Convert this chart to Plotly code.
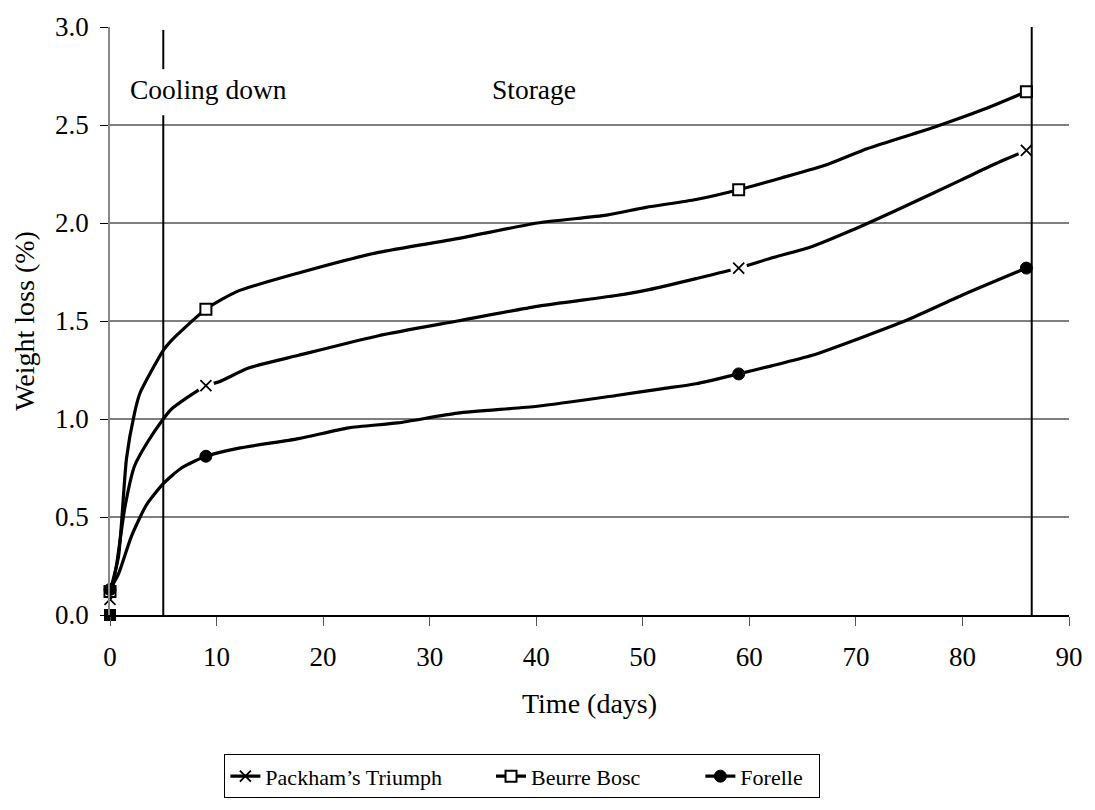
import plotly.graph_objects as go

# ---- data ----
pack_days = [0, 0.6, 1.4, 2.3, 3.5, 5, 5.75, 9, 10.25, 13, 17.7, 25.2, 32.6, 40.1, 47.5, 50.6, 55, 59, 62, 65.9, 69.5, 73.6, 79.9, 83, 86]
pack_vals = [0.08, 0.25, 0.55, 0.76, 0.88, 1.0, 1.05, 1.17, 1.19, 1.26, 1.325, 1.425, 1.50, 1.575, 1.63, 1.66, 1.716, 1.77, 1.82, 1.88, 1.96, 2.06, 2.22, 2.30, 2.37]

bosc_days = [0, 0.8, 1.55, 2.3, 2.8, 5, 5.75, 9, 11.9, 17.7, 25.2, 32.6, 40.1, 46.6, 50.3, 55, 59, 63, 67.4, 71.1, 77.4, 82, 86]
bosc_vals = [0.12, 0.30, 0.80, 1.03, 1.13, 1.35, 1.40, 1.56, 1.65, 1.745, 1.85, 1.92, 2.0, 2.04, 2.08, 2.12, 2.17, 2.23, 2.30, 2.38, 2.49, 2.58, 2.67]

forelle_days = [0, 0.8, 2.0, 3.4, 5, 6.7, 9, 12, 17.7, 22.4, 27, 32.6, 40.1, 47.5, 51.9, 55, 59, 62, 65.9, 70.5, 74.8, 79.9, 86]
forelle_vals = [0.13, 0.21, 0.40, 0.56, 0.67, 0.75, 0.81, 0.85, 0.90, 0.955, 0.98, 1.03, 1.065, 1.12, 1.155, 1.18, 1.23, 1.27, 1.325, 1.415, 1.505, 1.63, 1.77]

marker_days = [0, 9, 59, 86]
pack_marks = [0.08, 1.17, 1.77, 2.37]
bosc_marks = [0.12, 1.56, 2.17, 2.67]
forelle_marks = [0.13, 0.81, 1.23, 1.77]

origin_day = [0]
origin_val = [0.0]

phase_x = [5, 86.5]            # phase boundaries (days)
phase_labels = ["Cooling down", "Storage"]
phase_label_x = [9.2, 39.8]
y_ticks = [0, 0.5, 1.0, 1.5, 2.0, 2.5, 3.0]
x_ticks = list(range(0, 100, 10))

FONT = "Liberation Serif"
BLACK = "#000000"
NB = "\u00a0"
legend_pad = [8, 10, 2]   # trailing spaces per legend entry (spacing)

fig = go.Figure()

series = [
    ("Packham\u2019s Triumph", pack_days, pack_vals, pack_marks, "x-thin"),
    ("Beurre Bosc", bosc_days, bosc_vals, bosc_marks, "square"),
    ("Forelle", forelle_days, forelle_vals, forelle_marks, "circle"),
]

for name, d, v, m, sym in series:
    fig.add_trace(go.Scatter(x=d, y=v, mode="lines", line=dict(color=BLACK, width=3.2, shape="spline", smoothing=0.6),
                             showlegend=False, hoverinfo="skip", cliponaxis=False))

# white halo behind the x markers (Excel style gap)
fig.add_trace(go.Scatter(x=marker_days[1:], y=pack_marks[1:], mode="markers",
                         marker=dict(symbol="circle", color="white", size=17), showlegend=False, hoverinfo="skip"))

for i, (name, d, v, m, sym) in enumerate(series):
    if sym == "x-thin":
        mk = dict(symbol="x-thin", size=11, line=dict(color=BLACK, width=1.8))
    elif sym == "square":
        mk = dict(symbol="square", size=11, color="white", line=dict(color=BLACK, width=2))
    else:
        mk = dict(symbol="circle", size=12, color=BLACK, line=dict(color=BLACK, width=1))
    fig.add_trace(go.Scatter(x=marker_days, y=m, mode="markers", marker=mk, showlegend=False, name=name,
                             cliponaxis=False))
    label = name + NB * legend_pad[i]
    fig.add_trace(go.Scatter(x=[None], y=[None], mode="lines+markers", marker=mk,
                             line=dict(color=BLACK, width=3.2), name=label, showlegend=True))

fig.add_trace(go.Scatter(x=origin_day, y=origin_val, mode="markers",
                         marker=dict(symbol="square", size=12, color=BLACK), showlegend=False, cliponaxis=False))

shapes = []
for yv in y_ticks[1:-1]:
    shapes.append(dict(type="line", xref="x", yref="y", x0=0, x1=90, y0=yv, y1=yv,
                       line=dict(color=BLACK, width=1), layer="below"))
# phase boundary lines
shapes.append(dict(type="line", xref="x", yref="y", x0=phase_x[0], x1=phase_x[0], y0=0, y1=2.55,
                   line=dict(color=BLACK, width=2)))
shapes.append(dict(type="line", xref="x", yref="y", x0=phase_x[0], x1=phase_x[0], y0=2.785, y1=2.985,
                   line=dict(color=BLACK, width=2)))
shapes.append(dict(type="line", xref="x", yref="y", x0=phase_x[1], x1=phase_x[1], y0=0, y1=3.0,
                   line=dict(color=BLACK, width=2)))

annotations = [dict(x=lx, y=2.68, xref="x", yref="y", text=t, showarrow=False,
                    font=dict(family=FONT, size=27.5, color=BLACK))
               for lx, t in zip(phase_label_x, phase_labels)]

fig.update_layout(
    width=1095, height=810, autosize=False,
    margin=dict(l=110, r=19, t=26, b=189),
    paper_bgcolor="white", plot_bgcolor="white",
    font=dict(family=FONT, size=27, color=BLACK),
    shapes=shapes, annotations=annotations,
    xaxis=dict(range=[0, 90], tickvals=x_ticks, ticks="outside", ticklen=9, tickcolor="#555555",
               showline=True, linecolor=BLACK, linewidth=1.5, showgrid=False, zeroline=False,
               ticklabelstandoff=8,
               title=dict(text="Time (days)", font=dict(family=FONT, size=28), standoff=22),
               tickfont=dict(family=FONT, size=27)),
    yaxis=dict(range=[0, 3.0], tickvals=y_ticks, tickformat=".1f", ticks="outside", ticklen=8, tickcolor=BLACK,
               showline=True, linecolor="#888888", linewidth=1.5, showgrid=False, zeroline=False,
               ticklabelstandoff=6,
               title=dict(text="Weight loss (%)", font=dict(family=FONT, size=28), standoff=12),
               tickfont=dict(family=FONT, size=27)),
    legend=dict(orientation="h", x=0.43, xanchor="center", y=-0.237, yanchor="top",
                bordercolor=BLACK, borderwidth=1, font=dict(family=FONT, size=22), itemwidth=30,
                traceorder="normal"),
    showlegend=True,
)

fig.write_html("out.html")
